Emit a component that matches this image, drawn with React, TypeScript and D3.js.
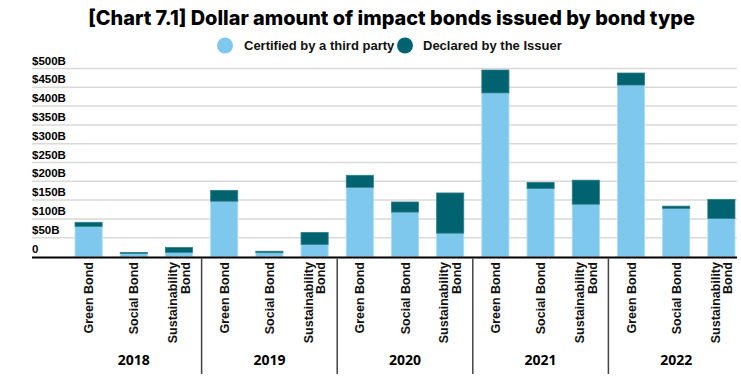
import React from "react";
import { scaleBand, scaleLinear, stack } from "d3";

const years = ["2018", "2019", "2020", "2021", "2022"];
const bondTypes = ["Green Bond", "Social Bond", "Sustainability Bond"];
// values in $B, one per year x bond type (year-major order)
const certified = [80, 8, 11, 147, 10, 32, 184, 118, 62, 435, 181, 139, 456, 128, 101];
const declared = [11, 3, 13, 29, 4, 32, 32, 27, 107, 61, 16, 64, 32, 6, 51];
const yTicks = [0, 50, 100, 150, 200, 250, 300, 350, 400, 450, 500];

const seriesNames = ["Certified by a third party", "Declared by the Issuer"];
const colors = ["#7EC8EE", "#01636F"];

const App = () => {
  const width = 741;
  const height = 386;
  const left = 32;
  const right = 737;
  const top = 68.5;
  const bottom = 256.5;

  const rows = years.flatMap((year, yi) =>
    bondTypes.map((type, ti) => ({
      key: `${year}-${type}`,
      year,
      type,
      certified: certified[yi * 3 + ti],
      declared: declared[yi * 3 + ti],
    }))
  );

  const x = scaleBand()
    .domain(rows.map((d) => d.key))
    .range([66, 744])
    .paddingInner(0.4)
    .paddingOuter(0.2);

  const y = scaleLinear().domain([0, 500]).range([bottom, top]);

  const stacked = stack<any>().keys(["certified", "declared"])(rows);
  const groupWidth = x.step() * 3;

  return (
    <svg
      width={width}
      height={height}
      style={{ position: "absolute", left: 0, top: 0, fontFamily: "Liberation Sans, Arial, sans-serif" }}
    >
      <rect width={width} height={height} fill="#fff" />
      <text
        x={391.5}
        y={25}
        textAnchor="middle"
        fontFamily="Inter, sans-serif"
        fontWeight={800}
        fontSize={19.9}
        fill="#000"
      >
        [Chart 7.1] Dollar amount of impact bonds issued by bond type
      </text>

      {/* legend */}
      <g fontSize={13} fontWeight="bold" fill="#111">
        <circle cx={225} cy={45.5} r={8} fill={colors[0]} />
        <text x={244} y={50}>{seriesNames[0]}</text>
        <circle cx={405} cy={45.5} r={8} fill={colors[1]} />
        <text x={423} y={50}>{seriesNames[1]}</text>
      </g>

      {/* grid + y labels */}
      {yTicks.map((t) => (
        <g key={t}>
          {t > 0 && (
            <line x1={left} x2={right} y1={y(t)} y2={y(t)} stroke="#d9d9d9" strokeWidth={1.5} />
          )}
          <text x={left} y={y(t) - 4} fontSize={11.5} fontWeight="bold" fill="#000">
            {t === 0 ? "0" : `$${t}B`}
          </text>
        </g>
      ))}

      {/* bars */}
      {stacked.map((s, si) => (
        <g key={s.key} fill={colors[si]}>
          {s.map((d: any) => (
            <rect
              key={d.data.key}
              x={x(d.data.key)}
              y={y(d[1])}
              width={x.bandwidth()}
              height={Math.max(0, y(d[0]) - y(d[1]))}
              stroke={si === 0 ? "#a9dcf5" : "#2d7f8a"}
              strokeWidth={0.8}
            />
          ))}
        </g>
      ))}

      {/* axis */}
      <line x1={left} x2={right} y1={bottom + 1} y2={bottom + 1} stroke="#000" strokeWidth={2} />

      {/* group separators and year labels */}
      {years.map((year, yi) => {
        const gx = x(`${year}-${bondTypes[0]}`)! - x.step() * 0.2;
        return (
          <g key={year}>
            {yi > 0 && (
              <line x1={gx} x2={gx} y1={bottom + 2} y2={374} stroke="#444" strokeWidth={1.5} />
            )}
            <text
              x={gx + groupWidth / 2}
              y={365}
              textAnchor="middle"
              fontFamily="Open Sans, sans-serif"
              fontWeight="bold"
              fontSize={14}
              fill="#000"
            >
              {year}
            </text>
          </g>
        );
      })}

      {/* category labels */}
      {rows.map((d) => {
        const cx = x(d.key)! + x.bandwidth() / 2;
        const lines = d.type === "Sustainability Bond" ? ["Sustainability", "Bond"] : [d.type];
        return (
          <text
            key={d.key}
            transform={`translate(${cx},${262}) rotate(-90)`}
            textAnchor="end"
            fontSize={12.5}
            fontWeight="bold"
            fill="#111"
          >
            {lines.map((l, i) => (
              <tspan key={i} x={0} y={4.5 + (i - (lines.length - 1) / 2) * 12.5}>
                {l}
              </tspan>
            ))}
          </text>
        );
      })}
    </svg>
  );
};

export default App;
